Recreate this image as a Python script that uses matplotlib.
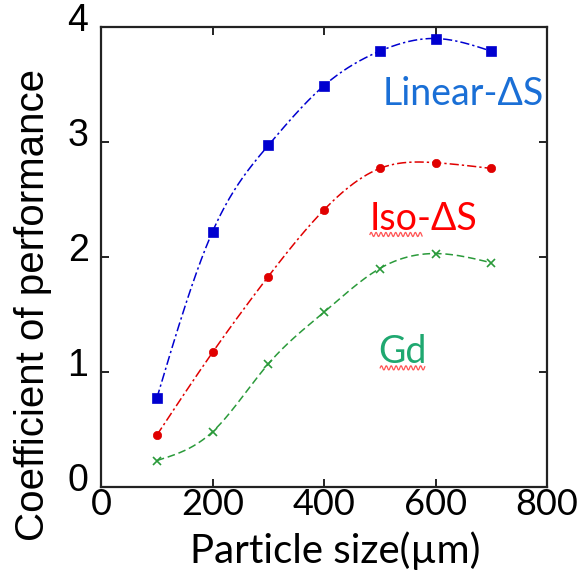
import numpy as np
import matplotlib
matplotlib.use("Agg")
import matplotlib.pyplot as plt
import matplotlib.transforms as mtransforms

plt.rcParams['font.family'] = ['Lato', 'DejaVu Sans']

# Particle size (µm) and coefficient of performance
particle_size = [100, 200, 300, 400, 500, 600, 700]
cop_linear = [0.77, 2.22, 2.97, 3.49, 3.79, 3.90, 3.79]
cop_iso = [0.45, 1.17, 1.83, 2.41, 2.77, 2.82, 2.77]
cop_gd = [0.23, 0.48, 1.07, 1.52, 1.90, 2.03, 1.95]

x_ticks = [0, 200, 400, 600, 800]
y_ticks = [0, 1, 2, 3, 4]


def natural_spline(x, y, n=300):
    """Smooth natural cubic spline through the given points."""
    x = np.asarray(x, float)
    y = np.asarray(y, float)
    m = len(x)
    h = np.diff(x)
    A = np.zeros((m, m))
    b = np.zeros(m)
    A[0, 0] = A[-1, -1] = 1
    for i in range(1, m - 1):
        A[i, i - 1] = h[i - 1]
        A[i, i] = 2 * (h[i - 1] + h[i])
        A[i, i + 1] = h[i]
        b[i] = 6 * ((y[i + 1] - y[i]) / h[i] - (y[i] - y[i - 1]) / h[i - 1])
    M = np.linalg.solve(A, b)
    xs = np.linspace(x[0], x[-1], n)
    idx = np.clip(np.searchsorted(x, xs) - 1, 0, m - 2)
    x0, x1 = x[idx], x[idx + 1]
    hh = x1 - x0
    t0, t1 = x1 - xs, xs - x0
    ys = (M[idx] * t0 ** 3 + M[idx + 1] * t1 ** 3) / (6 * hh) \
        + (y[idx] / hh - M[idx] * hh / 6) * t0 \
        + (y[idx + 1] / hh - M[idx + 1] * hh / 6) * t1
    return xs, ys


fig = plt.figure(figsize=(5.79, 5.73), dpi=100)
ax = fig.add_axes([101 / 579, 1 - 487 / 573, 446 / 579, 460 / 573])

series = [
    (cop_linear, '#0000d0', 's', 7.5, (0, (6, 2, 1.5, 2))),
    (cop_iso, '#e00000', 'o', 6.0, (0, (6, 2, 1.5, 2))),
    (cop_gd, '#2a9a3a', 'x', 6.0, (0, (5, 2.5))),
]
for vals, col, mk, ms, ls in series:
    xs, ys = natural_spline(particle_size, vals)
    ax.plot(xs, ys, color=col, lw=1.1, linestyle=ls)
    ax.plot(particle_size, vals, linestyle='none', marker=mk, color=col,
            markersize=ms, markeredgewidth=1.2 if mk == 'x' else 0.5)

ax.set_xlim(0, 800)
ax.set_ylim(0, 4)
ax.set_xticks(x_ticks)
ax.set_yticks(y_ticks)
ax.tick_params(direction='in', length=6, width=1.4, top=True, right=True,
               color='#222222')
ax.tick_params(axis='x', labelsize=26, pad=1)
ax.tick_params(axis='y', pad=9)
for lab in ax.get_yticklabels():
    lab.set_fontfamily(['Liberation Sans', 'DejaVu Sans'])
    lab.set_fontsize(27)
    lab.set_transform(lab.get_transform() +
                      mtransforms.ScaledTranslation(0, 10 / 100, fig.dpi_scale_trans))
for s in ax.spines.values():
    s.set_linewidth(1.6)
    s.set_color('#222222')

ax.set_xlabel('Particle size(µm)', fontsize=29)
ax.xaxis.set_label_coords(0.525, -0.097)
ax.set_ylabel('Coefficient of performance', fontsize=29,
              family=['Liberation Sans', 'DejaVu Sans'])
ax.yaxis.set_label_coords(-0.110, 0.396)

ax.text(0.812, 0.830, 'Linear-ΔS', transform=ax.transAxes, color='#1a6fd6',
        fontsize=27, ha='center', va='baseline')
ax.text(0.722, 0.559, 'Iso-ΔS', transform=ax.transAxes, color='#ff0000',
        fontsize=27, ha='center', va='baseline')
ax.text(0.675, 0.270, 'Gd', transform=ax.transAxes, color='#1fa870',
        fontsize=27, ha='center', va='baseline')

# wavy proofing underlines beneath two of the labels
for x0, x1, yy in [(0.603, 0.720, 0.549), (0.626, 0.726, 0.259)]:
    wx = np.linspace(x0, x1, 120)
    wy = yy + 0.0045 * np.sin((wx - x0) * 2 * np.pi / 0.011)
    ax.plot(wx, wy, transform=ax.transAxes, color='#ff5555', lw=0.9)

fig.savefig('out.png', dpi=100)
